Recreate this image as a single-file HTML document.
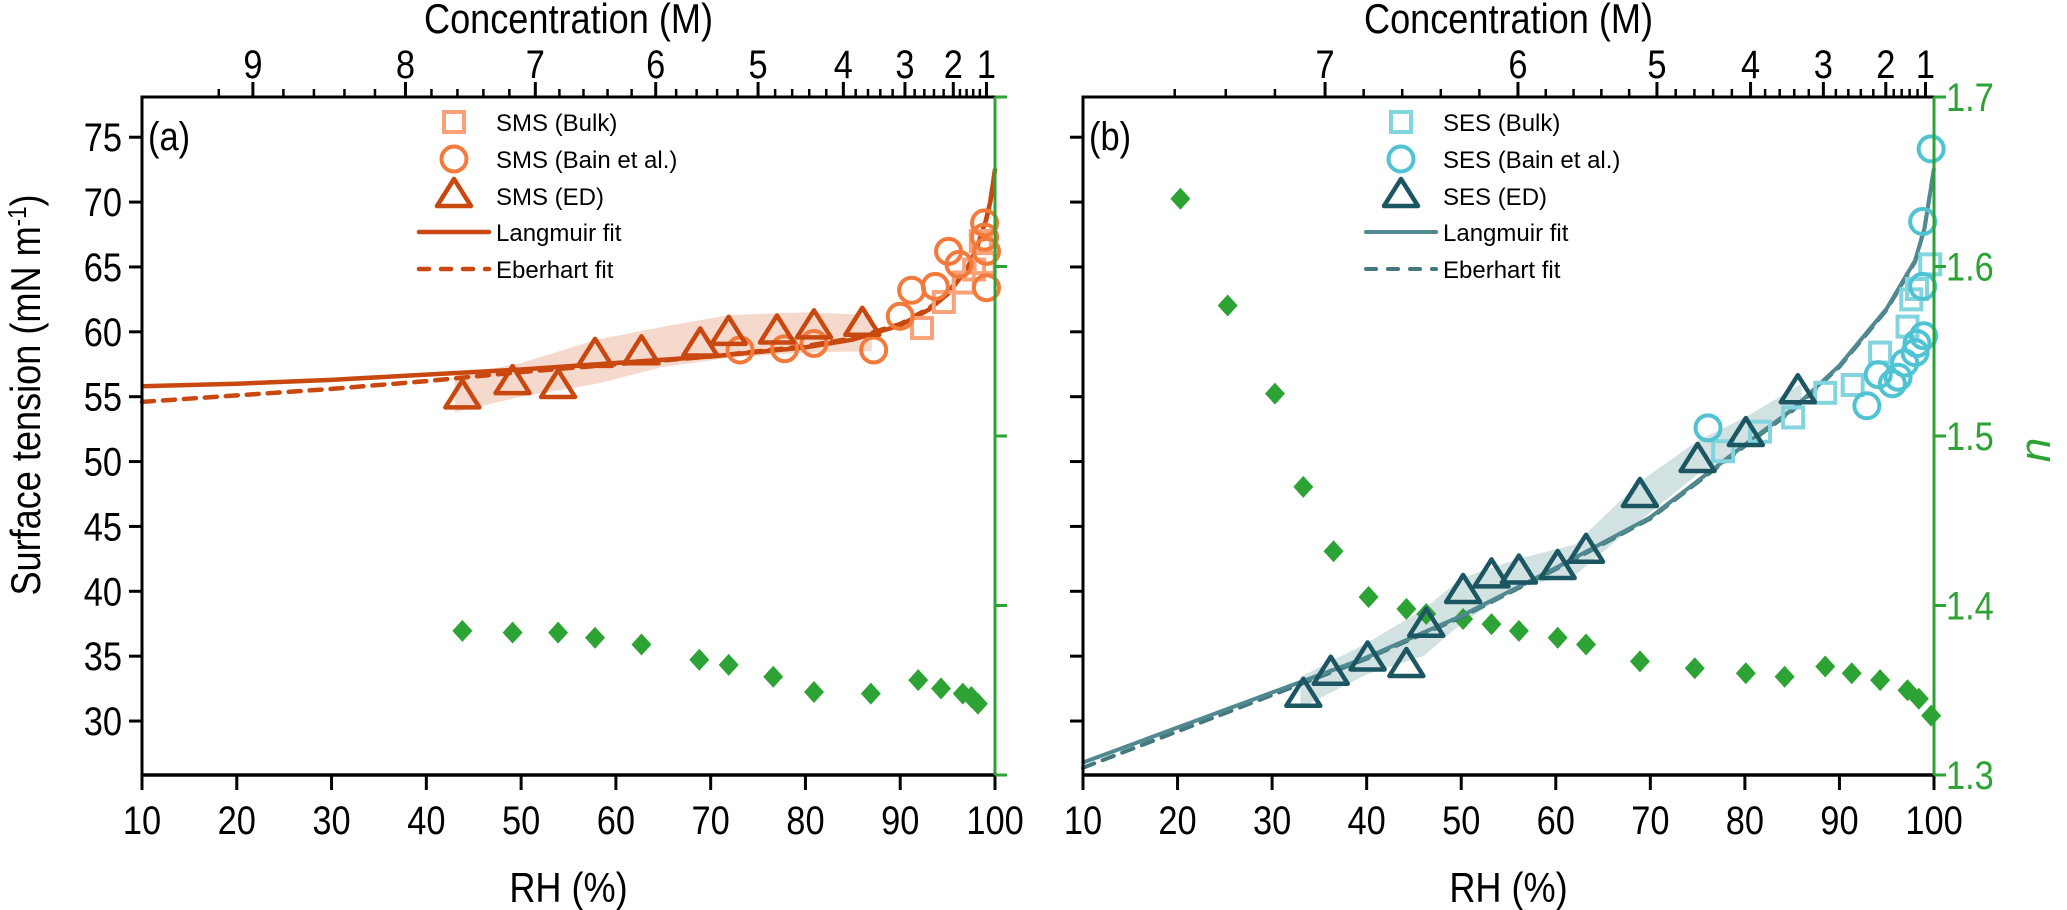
<!DOCTYPE html>
<html><head><meta charset="utf-8"><style>
html,body{margin:0;padding:0;background:#fff;}
svg{display:block;}
text{font-family:"Liberation Sans Narrow","Liberation Sans",sans-serif;}
.lg{font-family:"Liberation Sans",sans-serif;font-size:24px;}
</style></head><body>
<svg id="chart" width="2067" height="910" viewBox="0 0 2067 910" xmlns="http://www.w3.org/2000/svg"></svg>
<script>
// ---------- data ----------
const yTicks = [30,35,40,45,50,55,60,65,70,75];
const xTicks = [10,20,30,40,50,60,70,80,90,100];
const nTicks = [1.3,1.4,1.5,1.6,1.7];
const concA = [9,8,7,6,5,4,3,2,1];
const concA_rh = [21.7,37.8,51.5,64.2,75.0,84.0,90.5,95.6,99.1];
const concA_extra = [9.2];
const concA_extra_rh = [18.1];
const concB = [7,6,5,4,3,2,1];
const concB_rh = [35.6,56.0,70.7,80.6,88.3,94.9,99.1];
const concB_extra = [7.2,7.4,7.6];
const concB_extra_rh = [30.3,25.1,19.7];

// panel a
const aTri_rh = [43.8,49.1,53.9,57.8,62.7,68.9,71.9,77.0,80.9,86.0];
const aTri_v  = [55.1,56.2,55.9,58.3,58.5,59.1,60.0,60.1,60.5,60.7];
const aCir_rh = [73.1,77.8,80.9,87.2,90.0,91.2,93.7,95.1,96.2,98.9,98.9,99.1,99.1];
const aCir_v  = [58.6,58.7,59.1,58.6,61.2,63.2,63.5,66.2,65.2,68.4,67.3,66.2,63.4];
const aSq_rh = [92.3,94.6,96.7,97.8,98.5,98.9];
const aSq_v  = [60.3,62.3,63.8,64.8,67.0,65.3];
const aN_rh = [43.8,49.1,53.9,57.8,62.7,68.8,71.9,76.6,80.9,86.9,91.9,94.3,96.6,97.5,98.2];
const aN    = [1.385,1.384,1.384,1.381,1.377,1.368,1.365,1.358,1.349,1.348,1.356,1.351,1.348,1.346,1.342];
const aFit_rh = [10,20,30,40,50,60,70,80,85,90,93,95,97,98,99,99.5,100];
const aLang = [55.8,56.0,56.3,56.7,57.1,57.6,58.1,58.8,59.4,60.5,61.7,62.9,64.8,66.3,68.5,70.0,72.5];
const aEber = [54.6,55.1,55.6,56.2,56.9,57.5,58.1,58.9,59.5,60.6,61.8,63.0,64.9,66.3,68.4,70.0,72.5];
const aBand_rh = [43,50,58,65,72,80,87];
const aBand_hi = [56.6,57.6,59.4,60.4,61.3,61.5,61.3];
const aBand_lo = [53.8,55.0,56.0,57.3,58.0,58.4,58.5];

// panel b
const bTri_rh = [33.3,36.2,40.1,44.2,46.3,50.2,53.2,56.1,60.2,63.2,68.9,75.0,80.1,85.6];
const bTri_v  = [32.1,33.8,34.9,34.4,37.5,40.1,41.3,41.6,41.95,43.2,47.5,50.2,52.2,55.5];
const bSq_rh = [77.7,81.6,85.1,88.5,91.4,94.3,97.2,97.6,98.2,99.6];
const bSq_v  = [50.8,52.3,53.4,55.3,55.9,58.4,60.4,62.5,63.3,65.2];
const bCir_rh = [76.1,92.9,94.1,95.6,96.2,96.9,98.0,98.2,98.9,98.8,98.8,99.7];
const bCir_v  = [52.6,54.3,56.7,56.0,56.5,57.6,58.4,59.1,59.7,63.5,68.5,74.1];
const bN_rh = [20.3,25.3,30.3,33.3,36.5,40.2,44.2,46.3,50.2,53.2,56.1,60.2,63.2,68.9,74.7,80.1,84.2,88.5,91.3,94.3,97.2,98.4,99.7];
const bN    = [1.640,1.577,1.525,1.470,1.432,1.405,1.398,1.395,1.392,1.389,1.385,1.381,1.377,1.367,1.363,1.360,1.358,1.364,1.360,1.356,1.350,1.345,1.335];
const bFit_rh = [10,20,30,40,50,60,70,80,85,90,95,98,99,100];
const bLang = [26.8,29.5,32.2,34.9,38.1,41.8,45.7,51.3,54.0,57.4,61.8,65.5,68.0,72.6];
const bEber = [26.4,29.2,32.0,34.8,38.0,41.7,45.6,51.2,53.9,57.3,61.7,65.4,68.0,72.6];
const bBand_rh = [33,40,46,50,56,62,69,75,80,86];
const bBand_hi = [33.4,36.0,38.6,41.0,42.5,43.6,48.5,51.6,53.4,56.0];
const bBand_lo = [31.0,33.6,35.0,37.5,40.4,41.2,45.5,49.0,51.2,54.8];

// ---------- geometry ----------
const TOP=97, BOT=775, VMAX=78.1, VMIN=25.84;
const panels = {a:{x0:142,x1:995}, b:{x0:1083,x1:1934}};
function X(p,rh){const P=panels[p];return P.x0+(rh-10)/90*(P.x1-P.x0);}
function Y(v){return TOP+(VMAX-v)/(VMAX-VMIN)*(BOT-TOP);}
function YN(n){return TOP+(1.7-n)/0.4*(BOT-TOP);}

const svg=document.getElementById('chart');
const NS='http://www.w3.org/2000/svg';
const SQ=0.86;
function mk(tag,attrs,parent){const e=document.createElementNS(NS,tag);for(const k in attrs)e.setAttribute(k,attrs[k]);(parent||svg).appendChild(e);return e;}
function txt(str,x,y,size,anchor,fill,parent,extra){
  const a=Object.assign({'font-size':size,'text-anchor':anchor||'middle',fill:fill||'#000'},extra||{});
  if(extra&&extra.class==='lg'){a.x=x;a.y=y;}
  else{a.x=0;a.y=0;a.transform=`translate(${x},${y}) scale(${SQ},1)`;}
  const t=mk('text',a,parent);t.textContent=str;return t;}

const C={oD:'#c8480f',oC:'#f47a3c',oS:'#f9a27a',tD:'#1c5662',tC:'#4fc3d3',tS:'#82d4de',tL:'#50898f',g:'#2ea335',bandA:'#f6d9cd',bandB:'#d2e1e1'};

function tri(g,x,y,col){return mk('polygon',{points:`${x},${y-15} ${x+17},${y+12} ${x-17},${y+12}`,fill:'none',stroke:col,'stroke-width':4.5,'stroke-linejoin':'round'},g);}
function cir(g,x,y,col){return mk('circle',{cx:x,cy:y,r:12.5,fill:'none',stroke:col,'stroke-width':4},g);}
function sq(g,x,y,col){return mk('rect',{x:x-10,y:y-10,width:20,height:20,fill:'none',stroke:col,'stroke-width':4},g);}
function dia(g,x,y,col){return mk('polygon',{points:`${x},${y-11} ${x+10},${y} ${x},${y+11} ${x-10},${y}`,fill:col},g);}

function drawPanel(p,label,d){
  const P=panels[p];
  const g=mk('g',{});
  
  
  let pts=d.band_rh.map((r,i)=>X(p,r)+','+Y(d.band_hi[i]));
  pts=pts.concat(d.band_rh.map((r,i)=>X(p,r)+','+Y(d.band_lo[i])).reverse());
  const band=mk('polygon',{points:pts.join(' '),fill:d.bandCol,stroke:'none'},g);
  
  
  const gn=mk('g',{},g);
  
  
  d.n_rh.forEach((r,i)=>dia(gn,X(p,r),YN(d.n[i]),C.g));
  const lp=d.fit_rh.map((r,i)=>X(p,r)+','+Y(d.lang[i])).join(' ');
  const ep=d.fit_rh.map((r,i)=>X(p,r)+','+Y(d.eber[i])).join(' ');
  const el=mk('polyline',{points:ep,fill:'none',stroke:d.eCol,'stroke-width':d.lw,'stroke-dasharray':'12 9','stroke-linecap':'round'},g);
  
  
  const ll=mk('polyline',{points:lp,fill:'none',stroke:d.lCol,'stroke-width':d.lw},g);
  
  
  const gs=mk('g',{},g);
  
  
  d.sq_rh.forEach((r,i)=>sq(gs,X(p,r),Y(d.sq_v[i]),d.sqCol));
  const gc=mk('g',{},g);
  
  
  d.cir_rh.forEach((r,i)=>cir(gc,X(p,r),Y(d.cir_v[i]),d.cirCol));
  const gt=mk('g',{},g);
  
  
  d.tri_rh.forEach((r,i)=>tri(gt,X(p,r),Y(d.tri_v[i]),d.triCol));
  const ax=mk('g',{},g);
  
  
  mk('line',{x1:P.x0,y1:TOP,x2:P.x0,y2:BOT+1.5,stroke:'#000','stroke-width':3},ax);
  mk('line',{x1:P.x0,y1:BOT,x2:P.x1,y2:BOT,stroke:'#000','stroke-width':3.5},ax);
  mk('line',{x1:P.x0-1.5,y1:TOP,x2:P.x1,y2:TOP,stroke:'#000','stroke-width':3},ax);
  mk('line',{x1:P.x1,y1:TOP,x2:P.x1,y2:BOT,stroke:C.g,'stroke-width':3},ax);
  yTicks.forEach(v=>{
    mk('line',{x1:P.x0-13,y1:Y(v),x2:P.x0,y2:Y(v),stroke:'#000','stroke-width':3},ax);
    if(d.yLabels) txt(String(v),P.x0-20,Y(v)+14,40,'end','#000',ax);
  });
  xTicks.forEach(v=>{
    mk('line',{x1:X(p,v),y1:BOT,x2:X(p,v),y2:BOT+15,stroke:'#000','stroke-width':3},ax);
    txt(String(v),X(p,v),834,40,'middle','#000',ax);
  });
  nTicks.forEach(n=>{
    mk('line',{x1:P.x1,y1:YN(n),x2:P.x1+12,y2:YN(n),stroke:C.g,'stroke-width':3},ax);
    if(d.nLabels) txt(n.toFixed(1),P.x1+12,YN(n)+14,40,'start',C.g,ax);
  });
  d.conc.forEach((c,i)=>{
    const x=X(p,d.conc_rh[i]);
    mk('line',{x1:x,y1:TOP,x2:x,y2:TOP-15,stroke:'#000','stroke-width':3},ax);
    txt(String(c),x,78,40,'middle','#000',ax);
    if(i<d.conc.length-1){
      for(let k=1;k<5;k++){
        const r=d.conc_rh[i]+(d.conc_rh[i+1]-d.conc_rh[i])*k/5;
        mk('line',{x1:X(p,r),y1:TOP,x2:X(p,r),y2:TOP-8,stroke:'#000','stroke-width':2.5},ax);
      }
    }
  });
  d.extra_rh.forEach(r=>mk('line',{x1:X(p,r),y1:TOP,x2:X(p,r),y2:TOP-8,stroke:'#000','stroke-width':2.5},ax));
  const tt=txt('Concentration (M)',(P.x0+P.x1)/2,33,42,'middle','#000',ax);
  
  
  const bt=txt('RH (%)',(P.x0+P.x1)/2,902,42,'middle','#000',ax);
  
  
  const pl=txt(label,P.x0+6,150,40,'start','#000',g);
  
  
  const lg=mk('g',{},g);
  
  
  const lx=d.legX, tx=lx+42;
  sq(lg,lx,122,d.sqCol); txt(d.name+' (Bulk)',tx,131,24,'start','#000',lg,{class:'lg'});
  cir(lg,lx,159,d.cirCol); txt(d.name+' (Bain et al.)',tx,168,24,'start','#000',lg,{class:'lg'});
  tri(lg,lx,194,d.triCol); txt(d.name+' (ED)',tx,205,24,'start','#000',lg,{class:'lg'});
  mk('line',{x1:lx-35,y1:232,x2:lx+35,y2:232,stroke:d.lCol,'stroke-width':d.lw,'stroke-linecap':'round'},lg);
  txt('Langmuir fit',tx,241,24,'start','#000',lg,{class:'lg'});
  mk('line',{x1:lx-35,y1:269,x2:lx+35,y2:269,stroke:d.eCol,'stroke-width':d.lw,'stroke-dasharray':'10 12','stroke-linecap':'round'},lg);
  txt('Eberhart fit',tx,278,24,'start','#000',lg,{class:'lg'});
}

drawPanel('a','(a)',{band_rh:aBand_rh,band_hi:aBand_hi,band_lo:aBand_lo,bandCol:C.bandA,
  n_rh:aN_rh,n:aN,fit_rh:aFit_rh,lang:aLang,eber:aEber,lCol:C.oD,eCol:C.oD,lw:4.5,
  sq_rh:aSq_rh,sq_v:aSq_v,sqCol:C.oS,cir_rh:aCir_rh,cir_v:aCir_v,cirCol:C.oC,tri_rh:aTri_rh,tri_v:aTri_v,triCol:C.oD,
  yLabels:true,nLabels:false,conc:concA,conc_rh:concA_rh,extra_rh:concA_extra_rh,legX:454,name:'SMS'});
drawPanel('b','(b)',{band_rh:bBand_rh,band_hi:bBand_hi,band_lo:bBand_lo,bandCol:C.bandB,
  n_rh:bN_rh,n:bN,fit_rh:bFit_rh,lang:bLang,eber:bEber,lCol:C.tL,eCol:'#44787f',lw:4,
  sq_rh:bSq_rh,sq_v:bSq_v,sqCol:C.tS,cir_rh:bCir_rh,cir_v:bCir_v,cirCol:C.tC,tri_rh:bTri_rh,tri_v:bTri_v,triCol:C.tD,
  yLabels:false,nLabels:true,conc:concB,conc_rh:concB_rh,extra_rh:concB_extra_rh,legX:1401,name:'SES'});

const yt=mk('text',{x:0,y:0,'font-size':42,'text-anchor':'middle',transform:'translate(40,395) rotate(-90) scale(0.86,1)'});


yt.innerHTML='Surface tension (mN m<tspan dy="-14" font-size="26">-1</tspan><tspan dy="14">)</tspan>';
const nt=mk('text',{x:0,y:0,'font-size':44,'text-anchor':'middle','font-style':'italic',fill:C.g,transform:'translate(2050,450) rotate(-90)'});


nt.textContent='n';
</script>
</body></html>
